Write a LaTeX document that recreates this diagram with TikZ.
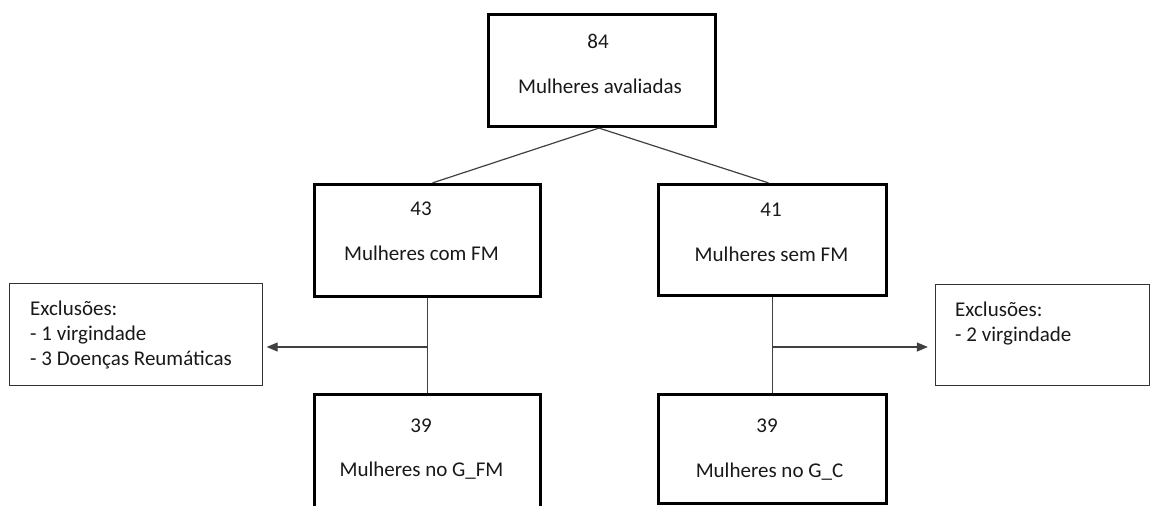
\documentclass[tikz,border=0pt]{standalone}
\usepackage{fontspec}
\setmainfont{Carlito}
\usetikzlibrary{arrows.meta}
\begin{document}
\begin{tikzpicture}[x=1pt,y=-1pt,
  box/.style={draw=black, line width=3.2pt, inner sep=0pt, fill=white},
  exbox/.style={draw=black!80, line width=1.3pt, inner sep=0pt},
  conn/.style={draw=black!75, line width=1.2pt},
  arr/.style={conn, -{Triangle[length=11pt,width=9pt]}},
  txt/.style={font=\fontsize{21}{25}\selectfont, inner sep=0pt, anchor=base, text=black!90},
  extxt/.style={txt, anchor=base west, align=left}]
\useasboundingbox (0,0) rectangle (1152,506);
% boxes
\node[box, minimum width=227pt, minimum height=112pt] (top) at (602,70.5) {};
\node[box, minimum width=226pt, minimum height=112pt] (ml) at (427.5,240.5) {};
\node[box, minimum width=228pt, minimum height=111pt] (mr) at (772.5,240) {};
\node[box, minimum width=226pt, minimum height=113pt] (bl) at (427.5,451) {};
\node[box, minimum width=228pt, minimum height=109pt] (br) at (772.5,449) {};
\node[exbox, minimum width=253pt, minimum height=101.7pt] (lex) at (136,334.5) {};
\node[exbox, minimum width=214pt, minimum height=100.7pt] (rex) at (1042.5,335) {};
% texts
\node[txt] (t1n) at (598,48.3) {84};
\node[txt] (t1t) at (600,93.3) {Mulheres avaliadas};
\node[txt] (mln) at (421,215) {43};
\node[txt] (mlt) at (421.5,260) {Mulheres com FM};
\node[txt] (mrn) at (771,216.5) {41};
\node[txt] (mrt) at (771.5,261.5) {Mulheres sem FM};
\node[txt] (bln) at (421,432.7) {39};
\node[txt] (blt) at (421.5,476.7) {Mulheres no G\_FM};
\node[txt] (brn) at (767,432.7) {39};
\node[txt] (brt) at (769.5,477) {Mulheres no G\_C};
\node[extxt] (lext) at (30,365) {Exclusões:\\- 1 virgindade\\- 3 Doenças Reumáticas};
\node[extxt] (rext) at (955,341) {Exclusões:\\- 2 virgindade};
% connectors
\draw[conn] ([xshift=-3pt]top.south) -- ([xshift=5pt]ml.north);
\draw[conn] ([xshift=-3pt]top.south) -- ([xshift=-4pt]mr.north);
\draw[conn] (ml.south) -- (bl.north);
\draw[conn] (mr.south) -- (br.north);
\coordinate (jl) at (427.5,347);
\coordinate (jr) at (772.5,347);
\draw[arr, shorten >=3.5pt] (jl) -- (jl -| lex.east);
\draw[arr, shorten >=7pt] (jr) -- (jr -| rex.west);
\end{tikzpicture}
\end{document}
